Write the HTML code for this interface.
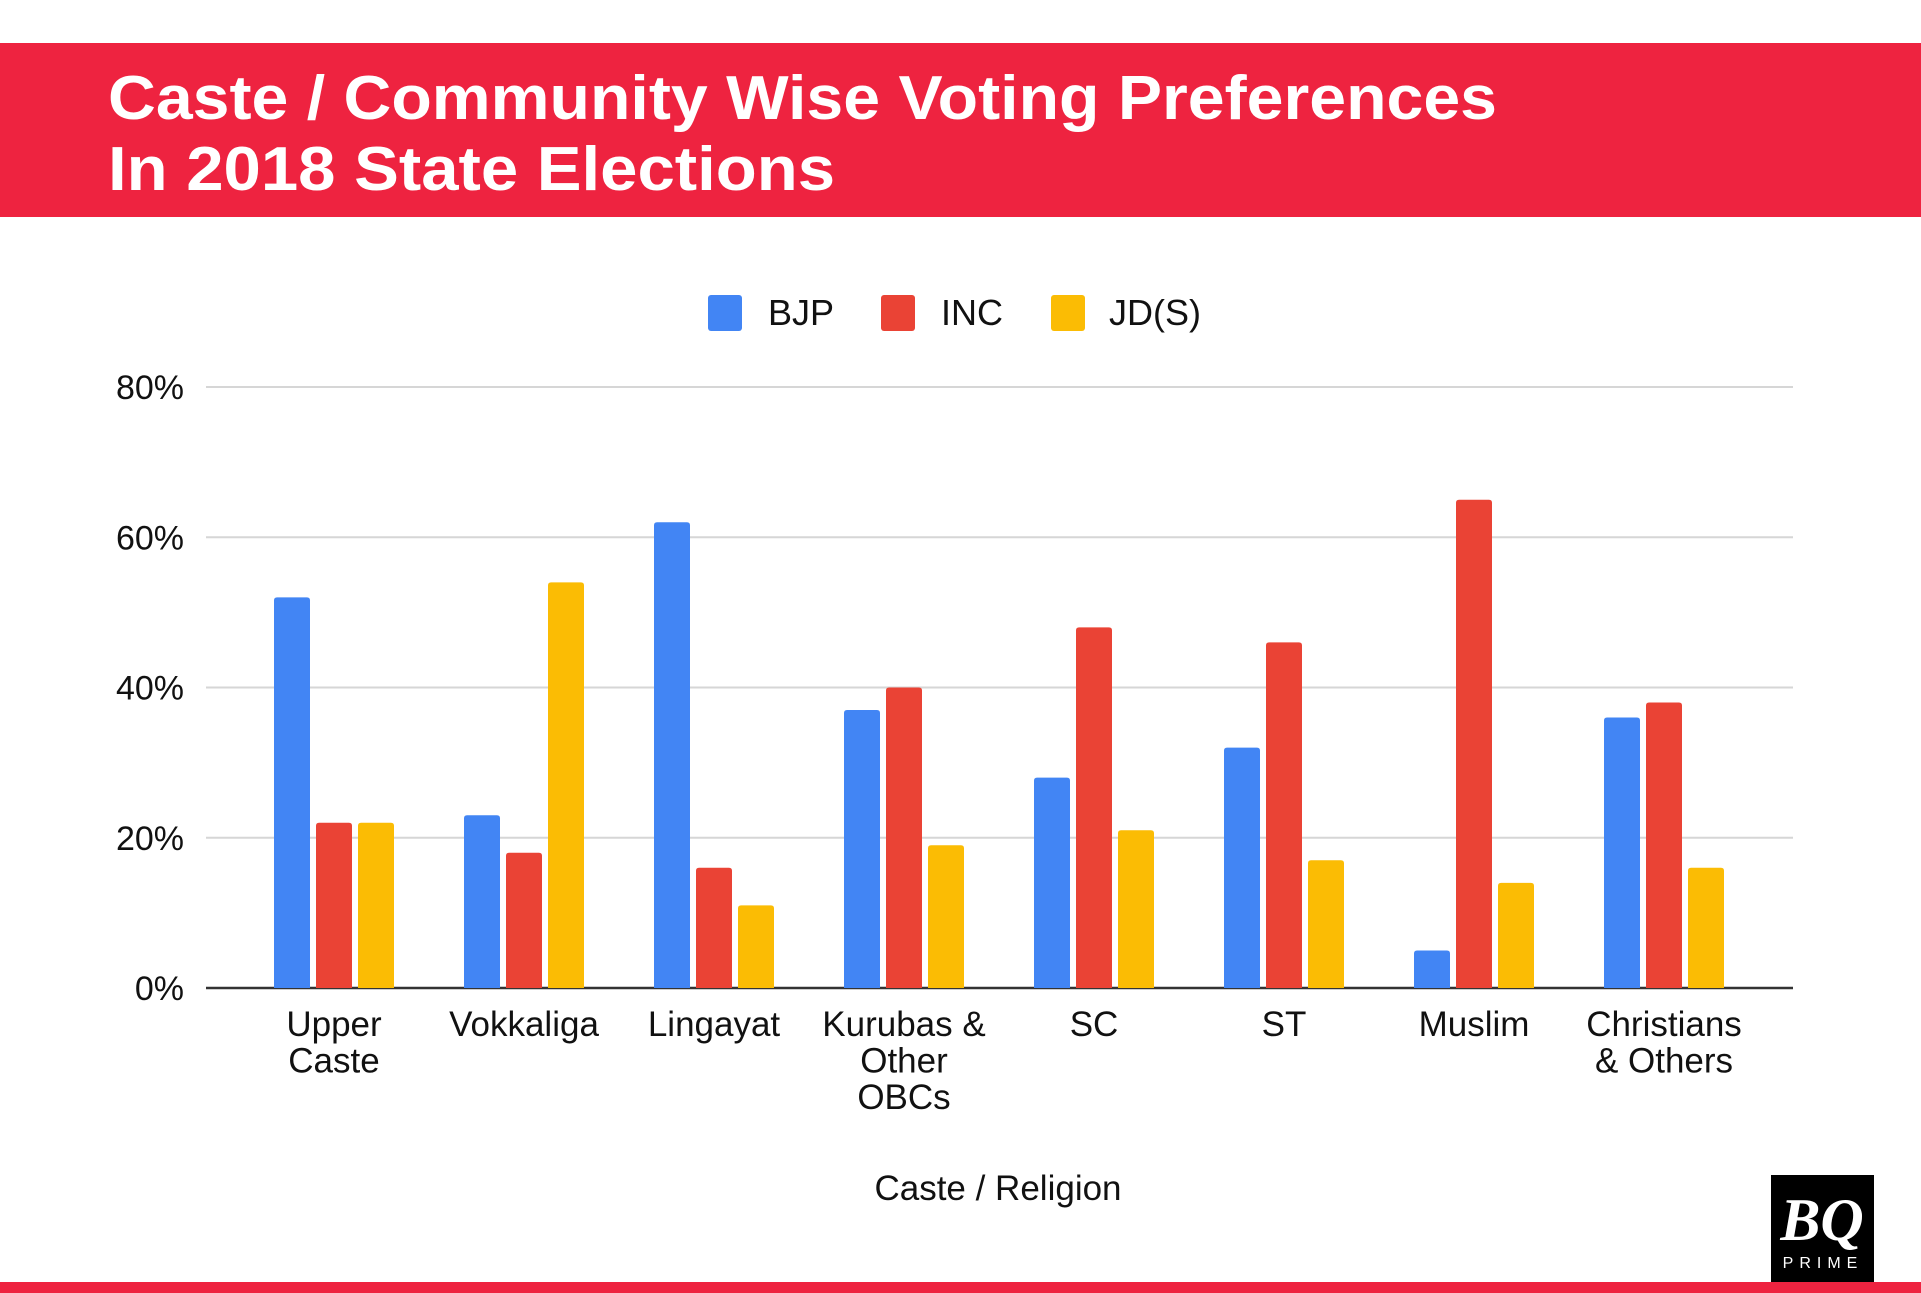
<!DOCTYPE html>
<html><head><meta charset="utf-8"><style>
html,body{margin:0;padding:0;background:#fff;}
svg{display:block;font-family:"Liberation Sans",Arial,sans-serif;}
</style></head><body>
<svg id="chart" width="1921" height="1293" viewBox="0 0 1921 1293">
<rect x="0" y="43" width="1921" height="174" fill="#ee2340"/>
<text x="108" y="119" font-size="62" font-weight="bold" fill="#fff" textLength="1389" lengthAdjust="spacingAndGlyphs">Caste / Community Wise Voting Preferences</text>
<text x="108" y="190" font-size="62" font-weight="bold" fill="#fff" textLength="727" lengthAdjust="spacingAndGlyphs">In 2018 State Elections</text>
<g id="legend">
<rect x="708" y="295" width="34" height="36" rx="3" fill="#4285f4"/>
<text x="768" y="325" font-size="36" fill="#111">BJP</text>
<rect x="881" y="295" width="34" height="36" rx="3" fill="#ea4335"/>
<text x="941" y="325" font-size="36" fill="#111">INC</text>
<rect x="1051" y="295" width="34" height="36" rx="3" fill="#fbbc04"/>
<text x="1109" y="325" font-size="36" fill="#111">JD(S)</text>
</g>
<g id="grid"></g>
<g id="bars"></g>
<g id="xlabels"></g>
<text x="998" y="1200" font-size="35" fill="#111" text-anchor="middle">Caste  / Religion</text>
<g>
<rect x="1771" y="1175" width="103" height="107" fill="#000"/>
<text x="1822" y="1240" font-family="Liberation Serif,serif" font-size="60" font-weight="bold" font-style="italic" fill="#fff" text-anchor="middle">BQ</text>
<text x="1823" y="1268" font-size="16" fill="#fff" text-anchor="middle" letter-spacing="6">PRIME</text>
</g>
<rect x="0" y="1282" width="1921" height="11" fill="#ee2340"/>
</svg>
<script>
const categories = [["Upper","Caste"],["Vokkaliga"],["Lingayat"],["Kurubas &","Other","OBCs"],["SC"],["ST"],["Muslim"],["Christians","& Others"]];
const bjp = [52,23,62,37,28,32,5,36];
const inc = [22,18,16,40,48,46,65,38];
const jds = [22,54,11,19,21,17,14,16];
const yTicks = [0,20,40,60,80];
const seriesNames = ["bjp","inc","jds"];
const colors = ["#4285f4","#ea4335","#fbbc04"];

const NS = "http://www.w3.org/2000/svg";
const y0 = 988, yTop = 387, yMax = 80;
const y = v => y0 - (v / yMax) * (y0 - yTop);
const firstCenter = 334, groupStep = 190;
const xc = i => firstCenter + i * groupStep;
const barW = 36, barStep = 42;

const grid = document.getElementById('grid');
yTicks.forEach(t => {
  const l = document.createElementNS(NS, 'line');
  l.setAttribute('x1', 206); l.setAttribute('x2', 1793);
  l.setAttribute('y1', y(t)); l.setAttribute('y2', y(t));
  l.setAttribute('stroke', t === 0 ? '#333' : '#d6d6d6');
  l.setAttribute('stroke-width', t === 0 ? 2.5 : 2);
  
  
  grid.appendChild(l);
  const tx = document.createElementNS(NS, 'text');
  tx.setAttribute('x', 184); tx.setAttribute('y', y(t) + 12);
  tx.setAttribute('font-size', 34); tx.setAttribute('fill', '#111');
  tx.setAttribute('text-anchor', 'end');
  tx.textContent = t + '%';
  
  
  grid.appendChild(tx);
});

const bars = document.getElementById('bars');
const series = [bjp, inc, jds];
categories.forEach((c, i) => {
  series.forEach((s, k) => {
    const r = document.createElementNS(NS, 'path');
    const x = xc(i) - barW / 2 + (k - 1) * barStep;
    const top = y(s[i]), rr = 3;
    r.setAttribute('d', `M${x},${y0} V${top + rr} Q${x},${top} ${x + rr},${top} H${x + barW - rr} Q${x + barW},${top} ${x + barW},${top + rr} V${y0} Z`);
    r.setAttribute('fill', colors[k]);
    
    
    bars.appendChild(r);
  });
  const xl = document.getElementById('xlabels');
  c.forEach((line, j) => {
    const tx = document.createElementNS(NS, 'text');
    tx.setAttribute('x', xc(i)); tx.setAttribute('y', 1036 + j * 36.5);
    tx.setAttribute('font-size', 35); tx.setAttribute('fill', '#111');
    tx.setAttribute('text-anchor', 'middle');
    tx.textContent = line;
    
    
    xl.appendChild(tx);
  });
});
</script>
</body></html>
